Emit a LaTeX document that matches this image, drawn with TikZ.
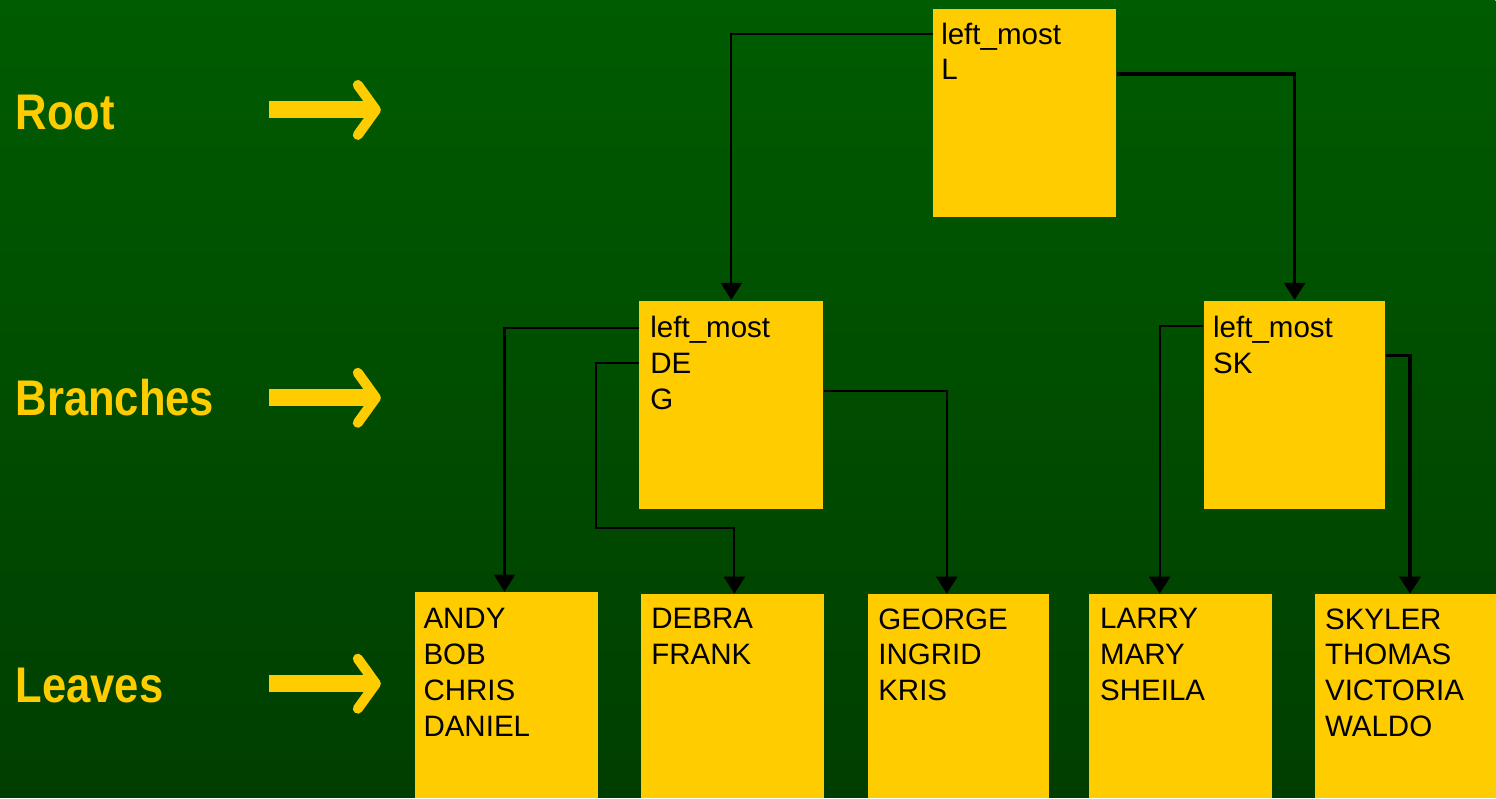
\documentclass[tikz,border=0pt]{standalone}
\usepackage{fontspec}
\setmainfont{Liberation Sans}
\usetikzlibrary{arrows.meta,positioning,calc}
\definecolor{gold}{HTML}{FFCC00}
\definecolor{bgtop}{HTML}{005C00}
\definecolor{bgmid}{HTML}{005600}
\definecolor{bgbot}{HTML}{003E00}
\tikzset{
  box/.style={rectangle, fill=gold, inner sep=0pt, anchor=north west, minimum width=1.83cm, minimum height=2.08cm},
  boxtxt/.style={anchor=north west, inner sep=0pt, align=left, font=\fontsize{8.4}{10.2}\selectfont},
  lvl/.style={anchor=base west, inner sep=0pt, text=gold, font=\bfseries\fontsize{12.4}{14}\selectfont},
  link/.style={draw=black, line width=0.6pt, -{Triangle[width=2.1mm, length=1.7mm]}},
  bigarr/.style={draw=gold, line width=0.17cm, -{Straight Barb[length=1.8mm, width=5mm, line width=1mm, round]}},
}

\begin{document}
\begin{tikzpicture}
\shade[top color=bgtop, middle color=bgmid, bottom color=bgbot] (0,0) rectangle (14.96,-7.98);

% level labels
\node[lvl] (rootLbl) at (0.15,-1.30) {\scalebox{1}[1.15]{Root}};
\node[lvl] (brLbl) at (0.15,-4.16) {\scalebox{1}[1.15]{Branches}};
\node[lvl] (lfLbl) at (0.15,-7.03) {\scalebox{1}[1.15]{Leaves}};
\coordinate (rootA) at (2.69,-1.10);
\coordinate (rootB) at (3.81,-1.10);
\coordinate (brA) at (2.69,-3.98);
\coordinate (brB) at (3.81,-3.98);
\coordinate (lfA) at (2.69,-6.84);
\coordinate (lfB) at (3.81,-6.84);
\draw[bigarr] (rootA) -- (rootB);
\draw[bigarr] (brA) -- (brB);
\draw[bigarr] (lfA) -- (lfB);

% boxes
\node[box] (root) at (9.33,-0.08) {};
\node[box, minimum width=1.84cm, minimum height=2.09cm] (de) at (6.39,-3.00) {};
\node[box, minimum width=1.81cm, minimum height=2.09cm] (sk) at (12.04,-3.00) {};
\node[box, minimum width=1.84cm, minimum height=2.06cm] (andy) at (4.14,-5.92) {};
\node[box, minimum height=2.04cm] (debra) at (6.41,-5.94) {};
\node[box, minimum width=1.81cm, minimum height=2.04cm] (george) at (8.68,-5.94) {};
\node[box, minimum height=2.04cm] (larry) at (10.89,-5.94) {};
\node[box, minimum width=1.81cm, minimum height=2.04cm] (skyler) at (13.15,-5.94) {};

\node[boxtxt, below right=0.14cm and 0.08cm of root.north west] (rootTxt) {left\_most\\L};
\node[boxtxt, below right=0.16cm and 0.11cm of de.north west] (deTxt) {left\_most\\DE\\G};
\node[boxtxt, below right=0.16cm and 0.09cm of sk.north west] (skTxt) {left\_most\\SK};
\node[boxtxt, below right=0.16cm and 0.09cm of andy.north west] (andyTxt) {ANDY\\BOB\\CHRIS\\DANIEL};
\node[boxtxt, below right=0.14cm and 0.10cm of debra.north west] (debraTxt) {DEBRA\\FRANK};
\node[boxtxt, below right=0.14cm and 0.10cm of george.north west] (georgeTxt) {GEORGE\\INGRID\\KRIS};
\node[boxtxt, below right=0.14cm and 0.11cm of larry.north west] (larryTxt) {LARRY\\MARY\\SHEILA};
\node[boxtxt, below right=0.14cm and 0.10cm of skyler.north west] (skylerTxt) {SKYLER\\THOMAS\\VICTORIA\\WALDO};

% pointers
\draw[link] ($(root.north west)+(0,-0.26)$) -| (de.north);
\draw[link, line width=0.9pt] ($(root.north east)+(0,-0.66)$) -| (sk.north);
\draw[link] ($(de.north west)+(0,-0.28)$) -| ([xshift=-0.2mm]andy.north);
\draw[link] ($(de.north west)+(0,-0.63)$) -- ++(-0.43,0) -- ++(0,-1.65) -| ([xshift=0.15mm]debra.north);
\draw[link] ($(de.north east)+(0,-0.91)$) -| ([xshift=-1.2mm]george.north);
\draw[link] ($(sk.north west)+(0,-0.26)$) -| ([xshift=-2.1mm]larry.north);
\draw[link, line width=0.9pt] ($(sk.north east)+(0,-0.56)$) -| ([xshift=0.45mm]skyler.north);
\end{tikzpicture}
\end{document}
